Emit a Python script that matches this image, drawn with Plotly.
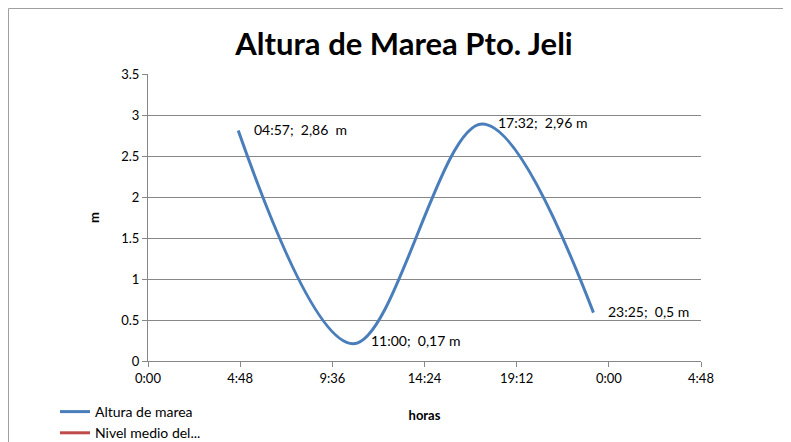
import plotly.graph_objects as go

# data (hours of day, metres)
hours = [4.70, 10.68, 17.40, 23.20]
altura = [2.81, 0.21, 2.89, 0.59]
nivel_vals = [None, None, None, None]
point_labels = ["04:57;\u00a0\u00a02,86\u00a0\u00a0m", "11:00;\u00a0\u00a00,17 m",
                "17:32;\u00a0\u00a02,96 m", "23:25;\u00a0\u00a00,5 m"]
label_shift = [(14, -1), (16, -3), (14, -2), (13, -1)]
tick_hours = [0, 4.8, 9.6, 14.4, 19.2, 24.0, 28.8]
tick_text = ["0:00", "4:48", "9:36", "14:24", "19:12", "0:00", "4:48"]
y_ticks = [0, 0.5, 1, 1.5, 2, 2.5, 3, 3.5]
y_text = ["0", "0.5", "1", "1.5", "2", "2.5", "3", "3.5"]

FONT = "Lato"
OFF = 8  # page body margin
W, H = 791 - OFF, 442 - OFF
ml, mt = 148 - OFF, 74 - OFF
mr = W - (701 - OFF)
mb = H - (361 - OFF)
pw, ph = W - ml - mr, H - mt - mb

def px2paper(px, py):
    # px, py in reference-image pixels
    return (px - OFF - ml) / pw, (H - mb - (py - OFF)) / ph

fig = go.Figure()
fig.add_trace(go.Scatter(x=hours, y=altura, mode="lines", name="Altura de marea",
                         line=dict(color="#4A7EBB", width=3, shape="spline", smoothing=1.0)))
fig.add_trace(go.Scatter(x=hours, y=nivel_vals, mode="lines", name="Nivel medio del...",
                         line=dict(color="#BE4B48", width=3)))

for xh, yv, t, (dx, dy) in zip(hours, altura, point_labels, label_shift):
    fig.add_annotation(x=xh, y=yv, text=t, showarrow=False, xanchor="left", yanchor="middle",
                       xshift=dx, yshift=-dy, font=dict(family=FONT, size=14, color="#000000"))

x0, y0 = px2paper(8.5, 8.5)
x1, y1 = px2paper(820, 480)
fig.add_shape(type="rect", xref="paper", yref="paper", x0=x0, y0=y1, x1=x1, y1=y0,
              line=dict(color="#A0A0A0", width=1), fillcolor="rgba(0,0,0,0)", layer="below")

lx, ly = px2paper(55, 396)
fig.update_layout(
    width=W, height=H,
    margin=dict(l=ml, r=mr, t=mt, b=mb, pad=0, autoexpand=False),
    paper_bgcolor="white", plot_bgcolor="white",
    font=dict(family=FONT, size=13, color="#000000"),
    title=dict(text="<b>Altura de Marea Pto. Jeli</b>", xref="container", x=(404 - OFF) / W,
               xanchor="center", yref="container", y=1 - (44 - OFF) / H, yanchor="middle",
               font=dict(family=FONT, size=31, color="#000000")),
    xaxis=dict(range=[0, 28.8], tickvals=tick_hours, ticktext=tick_text, showgrid=False,
               zeroline=False, showline=True, linecolor="#878787", linewidth=1,
               ticks="outside", ticklen=5, tickcolor="#878787",
               title=dict(text="<b>horas</b>", font=dict(family=FONT, size=13), standoff=26)),
    yaxis=dict(range=[0, 3.5], tickvals=y_ticks, ticktext=y_text, showgrid=True,
               gridcolor="#878787", gridwidth=1, zeroline=False, showline=True,
               linecolor="#878787", linewidth=1, ticks="outside", ticklen=5, tickcolor="#878787",
               title=dict(text="<b>m</b>", font=dict(family=FONT, size=13), standoff=18)),
    legend=dict(x=lx, y=ly, xanchor="left", yanchor="top", bgcolor="rgba(0,0,0,0)",
                font=dict(family=FONT, size=14), tracegroupgap=0, itemwidth=30),
    showlegend=True,
)
fig.write_html("out.html")
